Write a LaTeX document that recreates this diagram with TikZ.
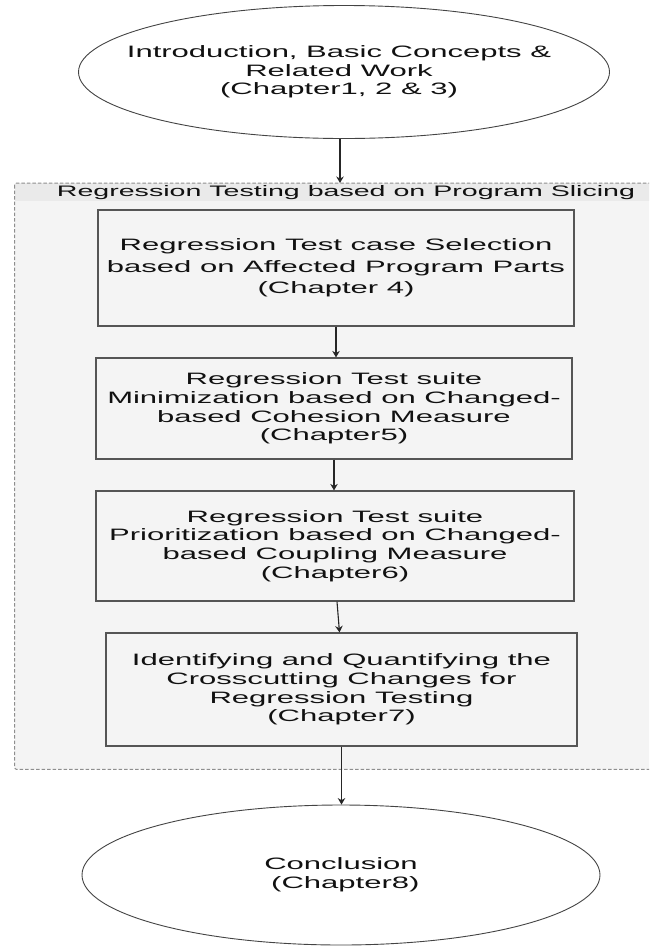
\documentclass[tikz,border=0pt]{standalone}
\usepackage{fontspec}
\setmainfont{Liberation Sans}[FakeStretch=1.88]
\usetikzlibrary{shapes.geometric,arrows.meta}

\definecolor{bodygray}{HTML}{F4F4F4}
\definecolor{headgray}{HTML}{EAEAEA}
\definecolor{dashgray}{HTML}{8E8E8E}
\definecolor{edgegray}{HTML}{555555}
\definecolor{inkblack}{HTML}{111111}

\tikzset{
  chapterbox/.style={draw=edgegray, line width=1.2pt, fill=bodygray,
    rectangle, inner sep=0pt, align=center, text=inkblack,
    font=\fontsize{16.5}{18.6}\selectfont},
  oval/.style={draw=edgegray!80!black, line width=0.9pt, fill=white,
    ellipse, inner sep=0pt},
  ovaltext/.style={align=center, text=inkblack, inner sep=0pt,
    font=\fontsize{16.5}{18.6}\selectfont},
  flow/.style={draw=black!85, line width=1.1pt,
    -{Stealth[length=6.5pt,width=7.5pt]}}
}

\begin{document}
\begin{tikzpicture}[x=1pt,y=-1pt]
  \useasboundingbox (0,0) rectangle (649,946);
  \clip (0,0) rectangle (649,946);

  % opening chapters
  \node[oval, minimum width=531, minimum height=133] (intro) at (344,72) {};
  \node[ovaltext] (introtxt) at ([xshift=-5pt]intro.center)
    {Introduction, Basic Concepts \&\\Related Work\\(Chapter1, 2 \& 3)};

  % dashed group around the slicing chapters
  \node[minimum width=650, minimum height=586, anchor=north west,
        inner sep=0pt] (group) at (14.7,183) {};
  \fill[bodygray, rounded corners=2pt] (group.north west) rectangle (group.south east);
  \fill[headgray] (group.north west) rectangle ([yshift=-18pt]group.north east);
  \draw[dashgray, line width=1pt, dash pattern=on 3.5pt off 2pt, rounded corners=2pt]
    (group.north west) rectangle (group.south east);
  \node[anchor=west, inner sep=0pt, text=inkblack,
        font=\fontsize{15.2}{17}\selectfont] (title)
    at ([xshift=42pt, yshift=-9.5pt]group.north west)
    {Regression Testing based on Program Slicing};

  % chapter boxes
  \node[chapterbox, minimum width=476, minimum height=116,
        font=\fontsize{16.5}{21.5}\selectfont] (b1) at (336,268)
    {Regression Test case Selection\\based on Affected Program Parts\\(Chapter 4)};
  \node[chapterbox, minimum width=476, minimum height=101] (b2) at (334,408.5)
    {Regression Test suite\\Minimization based on Changed-\\based Cohesion Measure\\(Chapter5)};
  \node[chapterbox, minimum width=478, minimum height=110] (b3) at (335,546)
    {Regression Test suite\\Prioritization based on Changed-\\based Coupling Measure\\(Chapter6)};
  \node[chapterbox, minimum width=471, minimum height=113] (b4) at (341.5,689.5)
    {Identifying and Quantifying the\\Crosscutting Changes for\\Regression Testing\\(Chapter7)};

  % closing chapter
  \node[oval, minimum width=518, minimum height=140] (concl) at (341,875) {};
  \node[ovaltext] (concltxt) at (concl.center) {Conclusion\\\ (Chapter8)};

  % reading order
  \draw[flow] ([xshift=-4pt]intro.south) -- ([xshift=-4pt]intro.south |- group.north);
  \draw[flow] (b1.south) -- (b1.south |- b2.north);
  \draw[flow] (b2.south) -- (b2.south |- b3.north);
  \draw[flow] ([xshift=2pt]b3.south) -- ([xshift=-2pt]b4.north);
  \draw[flow] (b4.south) -- (b4.south |- concl.north);
\end{tikzpicture}
\end{document}
